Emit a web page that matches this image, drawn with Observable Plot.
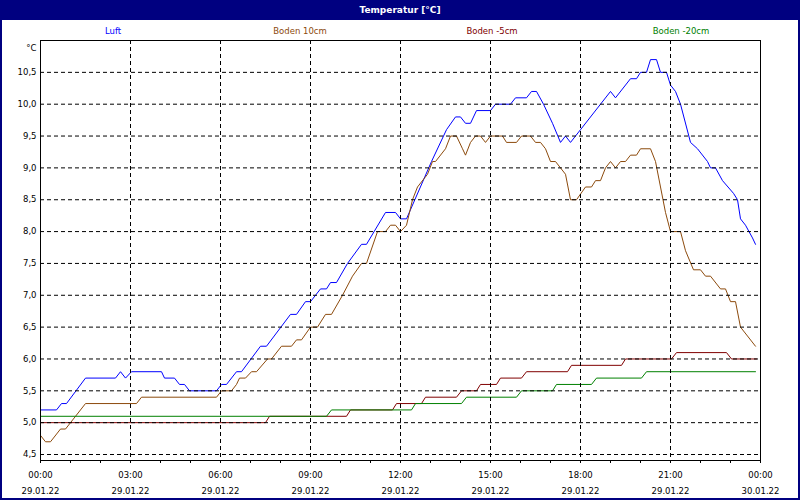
<!DOCTYPE html>
<html>
<head>
<meta charset="utf-8">
<script src="https://cdn.jsdelivr.net/npm/d3@7"></script>
<script src="https://cdn.jsdelivr.net/npm/@observablehq/plot@0.6"></script>
<style>
  html, body { margin: 0; padding: 0; background: white; }
  #wrap { position: relative; width: 800px; height: 500px; overflow: hidden; background: white; font-family: "DejaVu Sans", sans-serif; }
  #title { height: 20px; background: #000080; color: white; font-weight: bold; font-size: 9px; line-height: 20px; text-align: center; }
  #legend { position: relative; height: 14px; font-size: 8.5px; }
  #legend span { position: absolute; top: 5px; line-height: 12px; transform: translateX(-50%); white-space: nowrap; }
  #chart svg { display: block; }
  #border { position: absolute; left: 0; top: 0; width: 800px; height: 500px; box-sizing: border-box; border: 2px solid #000080; pointer-events: none; }
</style>
</head>
<body>
<div id="wrap">
  <div id="title"></div>
  <div id="legend"></div>
  <div id="chart"></div>
  <div id="border"></div>
</div>
<script>
const titleText = "Temperatur [°C]";
const seriesNames = ["Luft", "Boden 10cm", "Boden -5cm", "Boden -20cm"];
const seriesColors = ["#0000ff", "#8c4a0c", "#800000", "#008000"];
const legendCenters = [113, 300, 492, 681];

const luftTimes = ["00:00","00:32","00:42","00:52","01:30","02:30","02:40","02:50","03:02","04:02","04:08","04:28","04:38","04:48","04:58","05:52","06:02","06:12","06:32","06:42","07:20","07:32","08:20","08:32","08:50","09:00","09:20","09:32","09:40","09:52","10:14","10:42","10:52","11:30","11:50","12:00","12:12","13:02","13:32","13:50","14:00","14:10","14:20","14:32","15:00","15:10","15:40","15:50","16:12","16:22","16:32","16:46","17:04","17:20","17:30","17:40","18:00","19:00","19:10","19:40","19:52","20:00","20:12","20:20","20:32","20:40","20:52","21:00","21:10","21:20","21:40","21:54","22:14","22:20","22:30","22:44","23:06","23:14","23:20","23:30","23:44","23:50"];
const luftValues = [5.2,5.2,5.3,5.3,5.7,5.7,5.8,5.7,5.8,5.8,5.7,5.7,5.6,5.6,5.5,5.5,5.6,5.6,5.8,5.8,6.2,6.2,6.7,6.7,6.9,6.9,7.1,7.1,7.2,7.2,7.5,7.8,7.8,8.3,8.3,8.2,8.2,9.1,9.6,9.8,9.8,9.7,9.7,9.9,9.9,10.0,10.0,10.1,10.1,10.2,10.2,10.0,9.7,9.4,9.5,9.4,9.6,10.2,10.1,10.4,10.4,10.5,10.5,10.7,10.7,10.5,10.5,10.3,10.2,10.0,9.4,9.3,9.1,9.0,9.0,8.8,8.6,8.5,8.2,8.1,7.9,7.8];

const boden10Times = ["00:00","00:10","00:20","00:40","00:50","01:30","03:12","03:22","05:52","06:02","06:22","06:32","06:38","06:50","07:02","07:12","07:34","07:42","08:02","08:22","08:32","08:42","09:00","09:14","09:30","09:42","10:04","10:24","10:42","10:52","11:14","11:30","11:40","11:50","12:00","12:12","12:24","12:34","12:54","13:04","13:10","13:30","13:40","13:52","14:04","14:10","14:20","14:30","14:40","14:50","15:00","15:24","15:32","15:52","16:02","16:20","16:30","16:40","16:50","17:00","17:10","17:30","17:40","17:52","18:10","18:22","18:30","18:40","18:50","19:00","19:10","19:20","19:30","19:40","19:52","20:00","20:20","20:30","20:40","20:50","21:00","21:20","21:30","21:46","22:00","22:10","22:20","22:40","22:50","23:00","23:10","23:20","23:50"];
const boden10Values = [4.8,4.7,4.7,4.9,4.9,5.3,5.3,5.4,5.4,5.5,5.5,5.6,5.7,5.7,5.8,5.8,6.0,6.0,6.2,6.2,6.3,6.3,6.5,6.5,6.7,6.7,7.0,7.3,7.5,7.5,8.0,8.0,8.1,8.1,8.0,8.1,8.5,8.7,8.9,9.1,9.1,9.3,9.5,9.5,9.3,9.2,9.4,9.5,9.5,9.4,9.5,9.5,9.4,9.4,9.5,9.5,9.4,9.4,9.3,9.1,9.1,8.9,8.5,8.5,8.7,8.7,8.8,8.8,9.0,9.1,9.0,9.1,9.1,9.2,9.2,9.3,9.3,9.1,8.7,8.3,8.0,8.0,7.7,7.4,7.4,7.3,7.3,7.1,7.1,6.9,6.9,6.5,6.2];

const boden5Times = ["00:00","07:30","07:38","10:12","10:20","11:44","11:52","12:42","12:50","13:52","14:02","14:32","14:40","15:12","15:20","16:02","16:12","17:34","17:42","19:22","19:30","21:02","21:12","22:52","23:02","23:52"];
const boden5Values = [5.0,5.0,5.1,5.1,5.2,5.2,5.3,5.3,5.4,5.4,5.5,5.5,5.6,5.6,5.7,5.7,5.8,5.8,5.9,5.9,6.0,6.0,6.1,6.1,6.0,6.0];

const boden20Times = ["00:00","09:32","09:42","12:22","12:30","14:02","14:12","15:52","16:02","17:04","17:12","18:22","18:32","20:02","20:12","23:50"];
const boden20Values = [5.1,5.1,5.2,5.2,5.3,5.3,5.4,5.4,5.5,5.5,5.6,5.6,5.7,5.7,5.8,5.8];

const yTicks = [4.5,5.0,5.5,6.0,6.5,7.0,7.5,8.0,8.5,9.0,9.5,10.0,10.5];
const xMajorTicks = ["00:00","03:00","06:00","09:00","12:00","15:00","18:00","21:00","24:00"];
const yUnit = "°C";

const toDate = s => { const [h, m] = s.split(":").map(Number); return new Date(Date.UTC(2022, 0, 29, h, m)); };
const build = (times, values, name) => times.map((t, i) => ({time: toDate(t), value: values[i], name}));

const series = [
  build(luftTimes, luftValues, seriesNames[0]),
  build(boden10Times, boden10Values, seriesNames[1]),
  build(boden5Times, boden5Values, seriesNames[2]),
  build(boden20Times, boden20Values, seriesNames[3])
];

const majors = xMajorTicks.map(toDate);
const hours = d3.range(0, 25).map(h => new Date(Date.UTC(2022, 0, 29, h, 0)));
const fmtT = d3.utcFormat("%H:%M");
const fmtD = d3.utcFormat("%d.%m.%y");

document.getElementById("title").textContent = titleText;
const legend = document.getElementById("legend");
seriesNames.forEach((n, i) => {
  const s = document.createElement("span");
  s.textContent = n;
  s.style.left = legendCenters[i] + "px";
  s.style.color = seriesColors[i];
  legend.appendChild(s);
});

const chart = Plot.plot({
  width: 800,
  height: 466,
  marginTop: 6,
  marginBottom: 40,
  marginLeft: 40,
  marginRight: 40,
  style: {fontFamily: "DejaVu Sans, sans-serif", fontSize: "8.5px", background: "white", color: "black", overflow: "visible"},
  x: {type: "utc", domain: [majors[0], majors[majors.length - 1]]},
  y: {domain: [4.406, 11]},
  marks: [
    ...series.map((d, i) => Plot.line(d, {x: "time", y: "value", stroke: seriesColors[i], strokeWidth: 1})),
    Plot.gridY(yTicks, {stroke: "black", strokeOpacity: 1, strokeDasharray: "4,3"}),
    Plot.gridX(majors.slice(1, -1), {stroke: "black", strokeOpacity: 1, strokeDasharray: "4,3"}),
    Plot.axisY(yTicks, {tickSize: 0, tickPadding: 4, tickFormat: d => d.toFixed(1).replace(".", ","), label: null}),
    Plot.axisX(hours, {tickSize: 3, tickFormat: () => "", label: null}),
    Plot.axisX(majors, {tickSize: 0, tickPadding: 6.5, lineHeight: 1.85, tickFormat: d => (d.getUTCDate() === 30 ? "00:00" : fmtT(d)) + "\n" + fmtD(d), label: null}),
    Plot.frame({stroke: "black"}),
    Plot.text([yUnit], {frameAnchor: "top-left", dx: -4, dy: 4, textAnchor: "end"})
  ]
});
document.getElementById("chart").appendChild(chart);
</script>
</body>
</html>
